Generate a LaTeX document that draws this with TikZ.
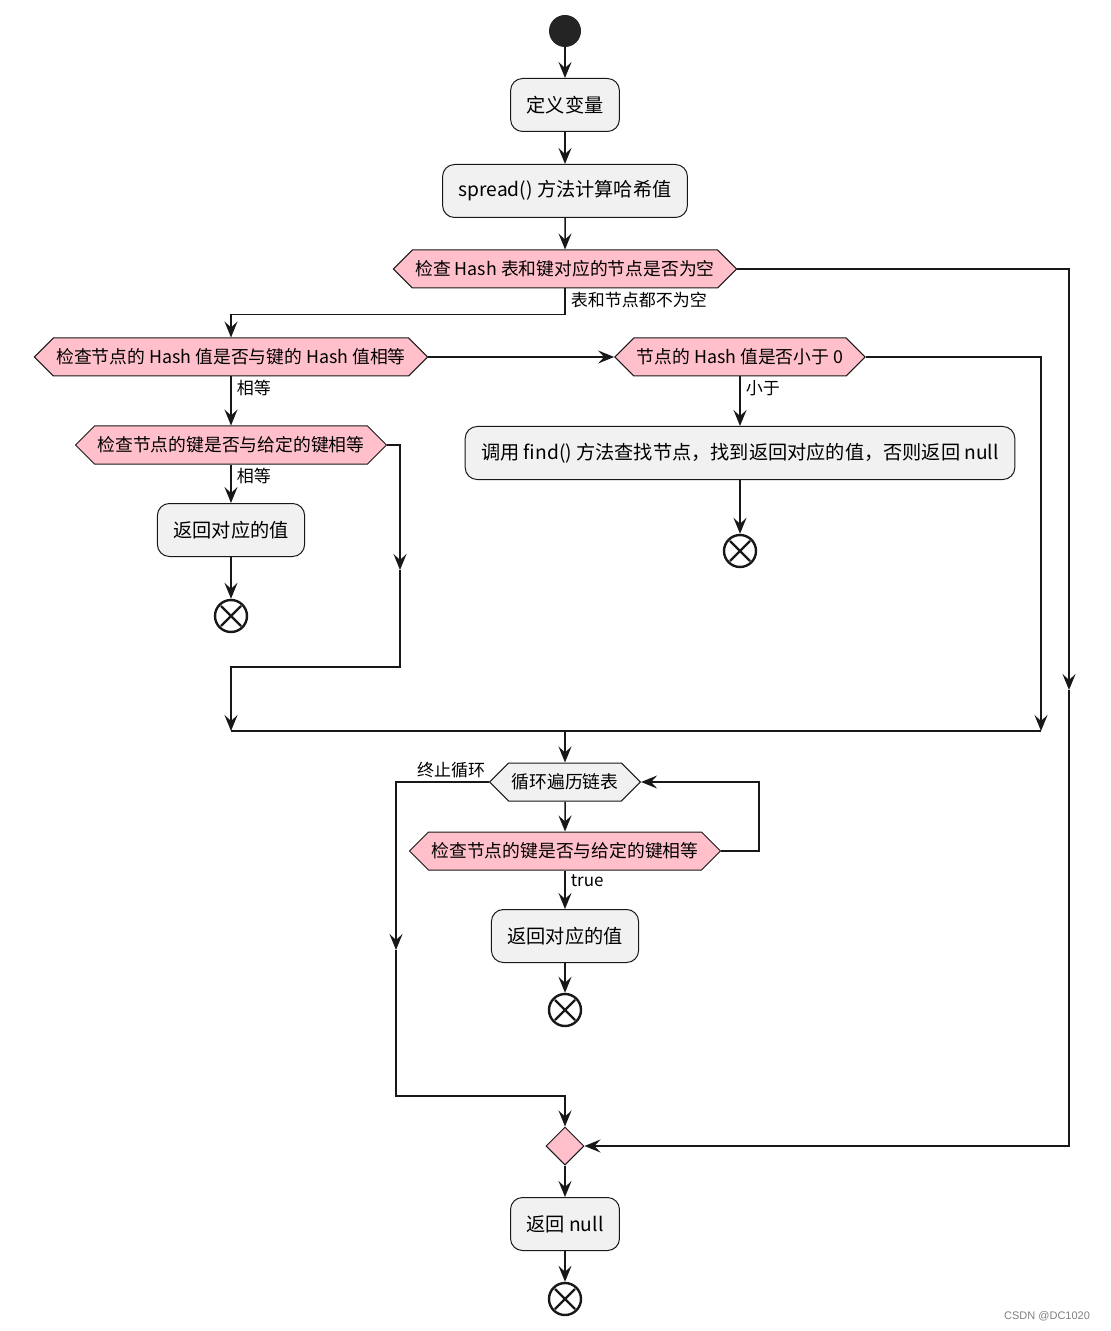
\documentclass[tikz,border=0pt]{standalone}
\usepackage{fontspec}
\setmainfont{Noto Sans CJK SC}
\newfontfamily\wmfont{Liberation Sans}
\usetikzlibrary{shapes.symbols,shapes.geometric,arrows.meta}
\definecolor{condpink}{HTML}{FFC0CB}
\definecolor{actgray}{HTML}{F1F1F1}
\definecolor{linecol}{HTML}{181818}

\begin{document}
\begin{tikzpicture}[x=0.5pt,y=-0.5pt,
	flow/.style={draw=linecol, line width=0.75pt, -{Stealth[length=8pt,width=6.5pt,inset=3pt]}},
	act/.style={draw=linecol, fill=actgray, line width=0.5pt, rounded corners=6pt, minimum height=26.5pt, inner xsep=8pt, font=\fontsize{9.6}{11}\selectfont},
	cond/.style={signal, signal to=west and east, signal pointer angle=90, draw=linecol, fill=condpink, line width=0.5pt, minimum height=19pt, inner xsep=1.5pt, inner ysep=0pt, font=\fontsize{8.9}{10}\selectfont},
	loopcond/.style={cond, fill=actgray},
	lbl/.style={inner sep=1.5pt, font=\fontsize{8.5}{10}\selectfont},
	startnode/.style={circle, fill=linecol!95, minimum size=16pt, inner sep=0pt},
	endnode/.style={circle, draw=linecol, line width=1.2pt, fill=white, minimum size=16pt, inner sep=0pt,
		path picture={\draw[line width=1.2pt] (path picture bounding box.center) +(-5pt,-5pt) -- +(5pt,5pt) +(-5pt,5pt) -- +(5pt,-5pt);}},
	merge/.style={diamond, draw=linecol, fill=condpink, line width=0.5pt, minimum size=19pt, inner sep=0pt}]
	\useasboundingbox[fill=white] (0,0) rectangle (1110,1331);

	\node[startnode] (start) at (565,31) {};
	\node[act] (def) at (565,105) {定义变量};
	\node[act] (spread) at (565,191) {spread() 方法计算哈希值};
	\node[cond] (chk) at (565,269) {检查 Hash 表和键对应的节点是否为空};
	\node[cond] (hash) at (231,357) {检查节点的 Hash 值是否与键的 Hash 值相等};
	\node[cond] (neg) at (740,357) {节点的 Hash 值是否小于 0};
	\node[cond] (key) at (231,445) {检查节点的键是否与给定的键相等};
	\node[act] (ret1) at (231,530) {返回对应的值};
	\node[endnode] (end1) at (231,616) {};
	\node[act] (find) at (740,453) {调用 find() 方法查找节点，找到返回对应的值，否则返回 null};
	\node[endnode] (end2) at (740,551) {};
	\node[loopcond] (loop) at (565,782) {循环遍历链表};
	\node[cond] (key2) at (565,851) {检查节点的键是否与给定的键相等};
	\node[act] (ret2) at (565,936) {返回对应的值};
	\node[endnode] (end3) at (565,1010) {};
	\node[merge] (mrg) at (565,1146) {};
	\node[act] (retnull) at (565,1224) {返回 null};
	\node[endnode] (end4) at (565,1299) {};

	\coordinate (c1) at (1069,690);
	\coordinate (c2) at (400,570);
	\coordinate (c5) at (396,950);
	\coordinate (m1) at (231,731);
	\coordinate (m0) at (565,731);
	\coordinate (m2) at (1041,731);

	\draw[flow] (start) -- (def);
	\draw[flow] (def) -- (spread);
	\draw[flow] (spread) -- (chk);
	\draw[flow] (chk.south) -- node[lbl, anchor=north west, pos=0, xshift=1pt] {表和节点都不为空} ++(0,26) -| (hash.north);
	\draw[flow] (chk.east) -| (c1);
	\draw[flow] (c1) |- (mrg.east);
	\draw[flow] (hash.east) -- (neg.west);
	\draw[flow] (hash.south) -- node[lbl, anchor=north west, pos=0, xshift=1pt] {相等} (key.north);
	\draw[flow] (key.south) -- node[lbl, anchor=north west, pos=0, xshift=1pt] {相等} (ret1.north);
	\draw[flow] (ret1) -- (end1);
	\draw[flow] (key.east) -| (c2);
	\draw[flow] (c2) -- ++(0,97) -| (m1);
	\draw[flow] (neg.south) -- node[lbl, anchor=north west, pos=0, xshift=1pt] {小于} (find.north);
	\draw[flow] (find) -- (end2);
	\draw[flow] (neg.east) -| (m2);
	\draw[draw=linecol, line width=0.75pt] (m1) -- (m2);
	\draw[flow] (m0) -- (loop.north);
	\draw[flow] (loop) -- (key2);
	\draw[flow] (key2.east) -- ++(38,0) |- (loop.east);
	\draw[flow] (key2.south) -- node[lbl, anchor=north west, pos=0, xshift=1pt] {true} (ret2.north);
	\draw[flow] (ret2) -- (end3);
	\draw[flow] (loop.west) -| node[lbl, anchor=south east, pos=0] {终止循环} (c5);
	\draw[flow] (c5) -- ++(0,146) -| (mrg.north);
	\draw[flow] (mrg) -- (retnull);
	\draw[flow] (retnull) -- (end4);

	\node[anchor=east, text=gray, font=\wmfont\fontsize{5.5}{6}\selectfont] (wm) at (1097,1316) {CSDN @DC1020};
\end{tikzpicture}
\end{document}
